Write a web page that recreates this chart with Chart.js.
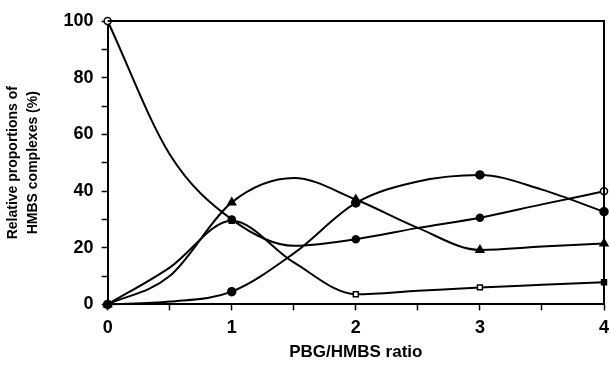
<!DOCTYPE html>
<html>
<head>
<meta charset="utf-8">
<script src="https://cdn.jsdelivr.net/npm/chart.js@4/dist/chart.umd.min.js"></script>
<style>
  html, body { margin: 0; padding: 0; background: #fff; }
  #wrap { width: 610px; height: 375px; }
</style>
</head>
<body>
<div id="wrap"><canvas id="hmbs_Chart" width="610" height="375"></canvas></div>
<script>
// PBG/HMBS ratio, read every half step along the curves (markers only on whole ratios)
const ratio = [0, 0.5, 1, 1.5, 2, 2.5, 3, 3.5, 4]

// relative proportions (%) of each HMBS complex
const free_enzyme = [100, 53, 30, 20.7, 23, 27, 30.6, 35.3, 39.9]
const complex_es1 = [0, 13, 29.5, 14.8, 3.6, 4.8, 6, 6.9, 7.8]
const complex_es2 = [0, 10, 36, 44.6, 37, 27, 19.2, 20.4, 21.5]
const complex_es3 = [0, 1, 4.5, 18, 35.8, 43.4, 45.7, 40.5, 32.7]

const y_ticks = [0, 20, 40, 60, 80, 100]
const x_ticks = [0, 1, 2, 3, 4]

const font_name = "'Liberation Sans', Arial, sans-serif"

// points: marker only on whole ratios
const to_points = (values) => values.map((v, i) => ({x: ratio[i], y: v}))
const marker_size = (r) => (c) => Number.isInteger(c.raw.x) ? r : 0

// white fill for the open markers
const fill_of = (open_at) => (c) => open_at.includes(c.raw.x) ? '#fff' : '#000'

function make_series(label, values, style, open_at, r)
{
    return {
        label: label,
        data: to_points(values),
        borderColor: '#000',
        borderWidth: 2,
        cubicInterpolationMode: 'monotone',
        pointStyle: style,
        pointRadius: marker_size(r),
        pointHoverRadius: marker_size(r),
        pointBackgroundColor: fill_of(open_at),
        pointBorderColor: '#000',
        pointBorderWidth: 1.5,
        clip: false
    }
}

// box around the plot area
const frame_plugin = {
    id: 'frame',
    afterDraw(chart)
    {
        const {ctx, chartArea} = chart
        ctx.save()
        ctx.strokeStyle = '#000'
        ctx.lineWidth = 2
        ctx.beginPath()
        ctx.moveTo(chartArea.left, chartArea.top)
        ctx.lineTo(chartArea.right, chartArea.top)
        ctx.lineTo(chartArea.right, chartArea.bottom)
        ctx.stroke()
        ctx.restore()
    }
}

const ctx = document.getElementById('hmbs_Chart').getContext('2d')
const hmbs_chart = new Chart(ctx, {
    type: 'line',
    data: {
        datasets: [
            make_series('E', free_enzyme, 'circle', [0, 4], 3.5),
            make_series('ES', complex_es1, 'rect', [2, 3], 3.5),
            make_series('ES2', complex_es2, 'triangle', [], 4.5),
            make_series('ES3', complex_es3, 'circle', [], 4)
        ]
    },
    options: {
        responsive: false,
        animation: false,
        layout: {padding: {top: 21, right: 0, left: 3, bottom: 16}},
        plugins: {
            legend: {display: false},
            tooltip: {enabled: false}
        },
        scales: {
            x: {
                type: 'linear',
                min: 0,
                max: 4,
                // the last label is allowed to run off the edge, as in the print
                afterFit: (scale) => { scale.paddingRight = 0 },
                ticks: {
                    stepSize: 0.5,
                    color: '#000',
                    padding: 13,
                    font: {family: font_name, size: 18, weight: 'bold', lineHeight: 0.5},
                    callback: (v) => x_ticks.includes(v) ? String(v) : ''
                },
                grid: {drawOnChartArea: false, tickLength: 6, tickWidth: 1.5, tickColor: '#000'},
                border: {color: '#000', width: 2},
                title: {
                    display: true,
                    text: 'PBG/HMBS ratio',
                    color: '#000',
                    font: {family: font_name, size: 17, weight: 'bold', lineHeight: 0.8},
                    padding: {top: 0, bottom: 0}
                }
            },
            y: {
                min: 0,
                max: 100,
                ticks: {
                    stepSize: 10,
                    color: '#000',
                    padding: 8,
                    font: {family: font_name, size: 18, weight: 'bold'},
                    callback: (v) => y_ticks.includes(v) ? String(v) : ''
                },
                grid: {drawOnChartArea: false, tickLength: 6, tickWidth: 1.5, tickColor: '#000'},
                border: {color: '#000', width: 2},
                title: {
                    display: true,
                    text: ['Relative proportions of', 'HMBS complexes (%)'],
                    color: '#000',
                    font: {family: font_name, size: 14, weight: 'bold', lineHeight: 1.45},
                    padding: {top: 0, bottom: 12}
                }
            }
        }
    },
    plugins: [frame_plugin]
})
</script>
</body>
</html>
